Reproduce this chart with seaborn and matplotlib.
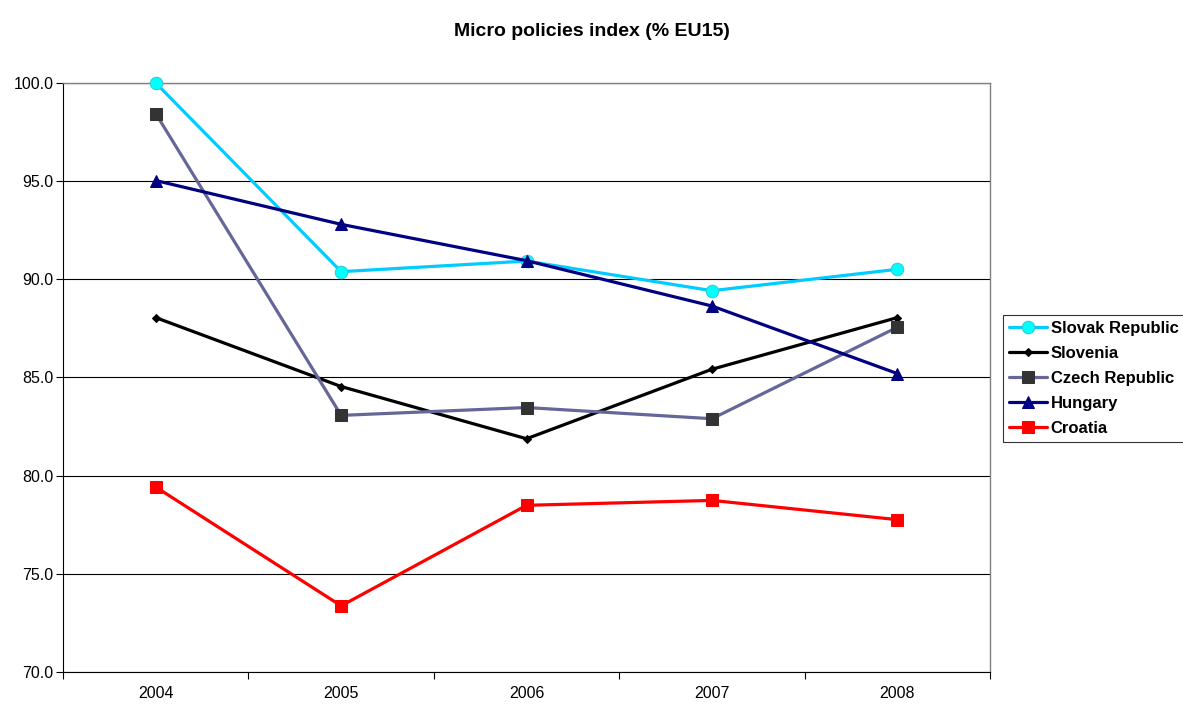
import pandas as pd
import seaborn as sns
import matplotlib.pyplot as plt
from matplotlib.ticker import MultipleLocator, FixedLocator

years = ['2004', '2005', '2006', '2007', '2008']
slovak = [100.0, 90.39, 90.93, 89.42, 90.51]
slovenia = [88.05, 84.54, 81.88, 85.42, 88.05]
czech = [98.44, 83.07, 83.47, 82.9, 87.56]
hungary = [95.03, 92.8, 90.95, 88.64, 85.2]
croatia = [79.42, 73.37, 78.49, 78.74, 77.76]

sns.set_style('white')
plt.rcParams['font.family'] = ['Liberation Sans', 'DejaVu Sans']
plt.rcParams['text.color'] = 'black'
plt.rcParams['xtick.color'] = 'black'
plt.rcParams['ytick.color'] = 'black'

fig = plt.figure(figsize=(11.83, 7.05), dpi=100)
ax = fig.add_axes([0.0533, 0.0468, 0.7836, 0.8355])

series = [
    ('Slovak Republic', slovak, dict(color='#00CCFF', marker='o', markersize=9,
                                     markerfacecolor='#00FFFF', markeredgecolor='#33CCCC')),
    ('Slovenia', slovenia, dict(color='black', marker='D', markersize=4,
                                markerfacecolor='black', markeredgecolor='black')),
    ('Czech Republic', czech, dict(color='#666699', marker='s', markersize=9,
                                   markerfacecolor='#333333', markeredgecolor='#333333')),
    ('Hungary', hungary, dict(color='#000080', marker='^', markersize=9,
                              markerfacecolor='#000080', markeredgecolor='#000080')),
    ('Croatia', croatia, dict(color='#FF0000', marker='s', markersize=8,
                              markerfacecolor='#FF0000', markeredgecolor='#FF0000')),
]

for name, vals, style in series:
    df = pd.DataFrame({'year': years, 'value': vals})
    sns.lineplot(data=df, x='year', y='value', ax=ax, label=name, linewidth=2.3, **style)

# markers sit on the top border in the original, don't clip them
for line in ax.lines:
    line.set_clip_on(False)
    line.set_zorder(3)

ax.set_xlim(-0.5, 4.5)
ax.set_ylim(70, 100)
ax.yaxis.set_major_locator(MultipleLocator(5))
ax.yaxis.set_major_formatter(plt.FuncFormatter(lambda v, p: f'{v:.1f}'))
ax.set_xticks(range(5))
ax.set_xticklabels(years)
ax.xaxis.set_minor_locator(FixedLocator([-0.5, 0.5, 1.5, 2.5, 3.5, 4.5]))
ax.tick_params(axis='x', which='major', length=0, pad=10, labelsize=11.5, labelcolor='black')
ax.tick_params(axis='x', which='minor', length=5, width=0.8, color='black', direction='out', bottom=True)
ax.tick_params(axis='y', length=5, width=0.8, color='black', direction='out', left=True,
               labelsize=11.5, pad=2, labelcolor='black')
ax.set_xlabel('')
ax.set_ylabel('')

ax.grid(axis='y', color='black', linewidth=0.8)
ax.set_axisbelow(True)
for side in ['left', 'bottom']:
    ax.spines[side].set_color('black')
    ax.spines[side].set_linewidth(0.8)
for side in ['top', 'right']:
    ax.spines[side].set_color('#808080')
    ax.spines[side].set_linewidth(1.0)

ax.set_title('Micro policies index (% EU15)', fontsize=14, fontweight='bold', pad=34,
             x=0.57, color='black')

leg = ax.legend(loc='upper left', bbox_to_anchor=(0.848, 0.553), bbox_transform=fig.transFigure,
                frameon=True, fancybox=False, edgecolor='black',
                prop={'weight': 'bold', 'size': 12}, handlelength=2.3, handletextpad=0.2,
                labelspacing=0.6, borderpad=0.35, borderaxespad=0)
leg.get_frame().set_linewidth(0.8)
for t in leg.get_texts():
    t.set_color('black')

plt.savefig('out.png', dpi=100)
plt.close()
